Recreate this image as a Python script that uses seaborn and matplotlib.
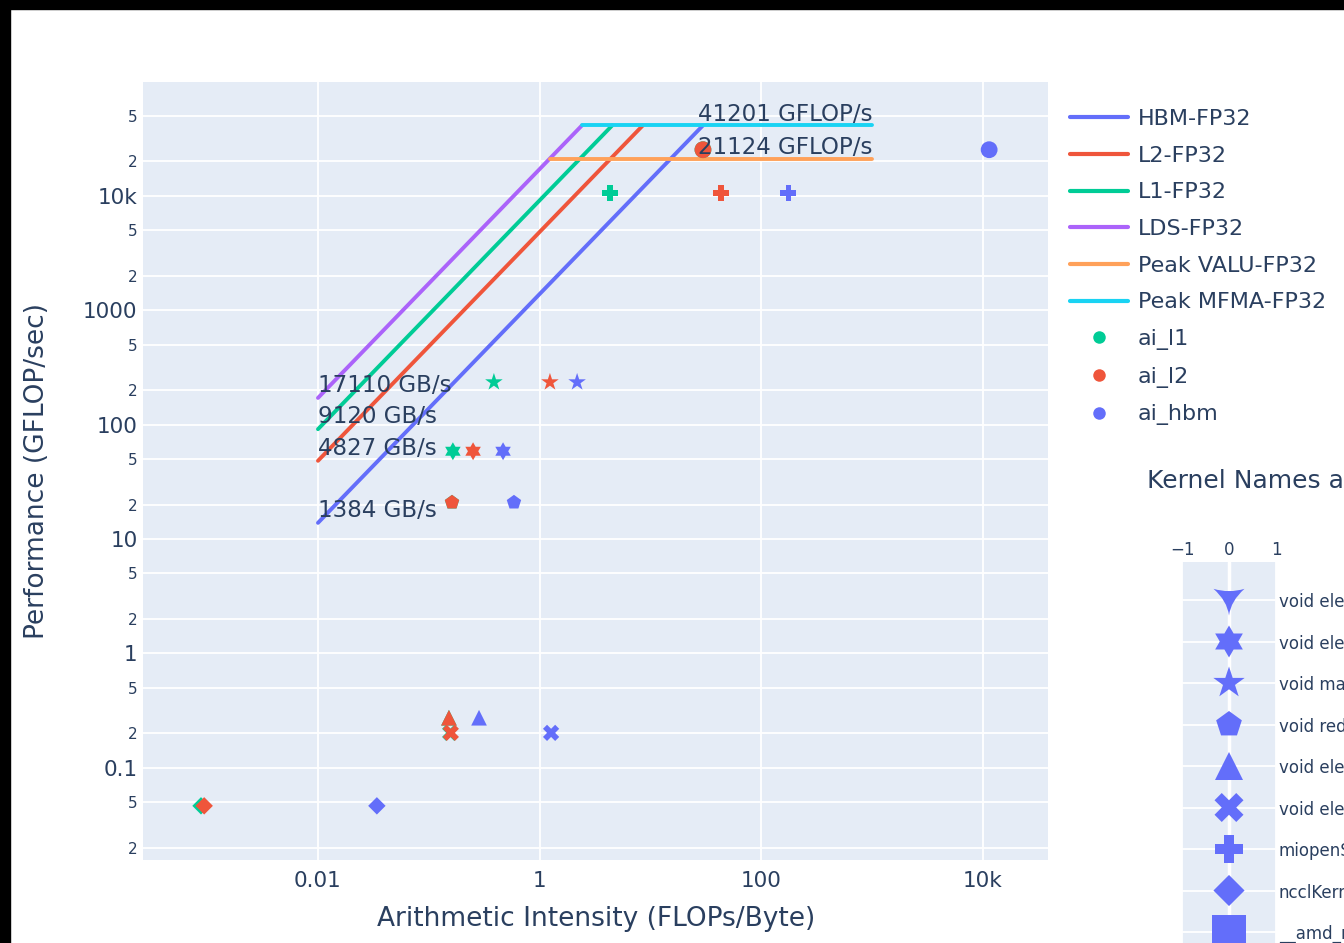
import numpy as np
import pandas as pd
import matplotlib
matplotlib.use("Agg")
import matplotlib.pyplot as plt
from matplotlib.path import Path
from matplotlib.lines import Line2D
from matplotlib.patches import Rectangle
import seaborn as sns

# ------------------------------------------------------------
# data
# ------------------------------------------------------------
mem_names = ["HBM-FP32", "L2-FP32", "L1-FP32", "LDS-FP32"]
mem_bw = [1384, 4827, 9120, 17110]          # GB/s
mem_colors = ["#636EFA", "#EF553B", "#00CC96", "#AB63FA"]

peak_names = ["Peak VALU-FP32", "Peak MFMA-FP32"]
peak_flops = [21124, 41201]                  # GFLOP/s
peak_colors = ["#FFA15A", "#19D3F3"]

ai_start = 0.01
ai_end = 1000

level_names = ["ai_l1", "ai_l2", "ai_hbm"]
level_colors = ["#00CC96", "#EF553B", "#636EFA"]

# kernel list, top -> bottom in the marker key
kernel_names = [
    "void elementwise_kernel<128, 2, at::native::launch_kernel>",
    "void elementwise_kernel<128, 4, at::native::copy_kernel>",
    "void matmul_kernel<float, 256>",
    "void reduce_kernel<512, 1, at::native::ReduceOp>",
    "void elementwise_kernel<128, 2, at::native::add_kernel>",
    "void elementwise_kernel<128, 4, at::native::mul_kernel>",
    "miopenSp3AsmConv_v21_1_3_gfx9_fp32_stride1",
    "ncclKernel_AllReduce_RING_LL_Sum_float",
    "__amd_rocclr_fillBufferAligned",
    "Cijk_Ailk_Bljk_SB_MT128x128x16_MI32x32x2x1",
]

# kernels that appear in the roofline (index into kernel_names)
point_kernel = [1, 2, 3, 4, 5, 6, 7, 9]
point_perf = [58.5, 235, 20.9, 0.274, 0.202, 10600, 0.0465, 25300]
point_ai_l1 = [0.165, 0.387, 0.162, 0.152, 0.156, 4.32, 0.00088, 29.8]
point_ai_l2 = [0.251, 1.24, 0.162, 0.152, 0.158, 43.4, 0.00094, 29.8]
point_ai_hbm = [0.468, 2.18, 0.587, 0.284, 1.27, 175, 0.034, 11400]


# ------------------------------------------------------------
# markers (plotly-like symbols)
# ------------------------------------------------------------
def star_triangle_down():
    p0, p1, p2 = (-1.0, 0.72), (1.0, 0.72), (0.0, -1.0)
    verts = [p0, (0.0, 0.42), p1, (0.12, -0.05), p2, (-0.12, -0.05), p0, p0]
    codes = [Path.MOVETO, Path.CURVE3, Path.CURVE3, Path.CURVE3, Path.CURVE3,
             Path.CURVE3, Path.CURVE3, Path.CLOSEPOLY]
    return Path(verts, codes)


kernel_markers = [
    star_triangle_down(),
    Path.unit_regular_star(6, 0.577),
    "*",
    "p",
    "^",
    "X",
    "P",
    "D",
    "s",
    "o",
]
# marker size (px) in the kernel key, per symbol
key_marker_px = [31, 32, 33, 27, 28, 29, 28, 22, 34, 30]
marker_map = dict(zip(kernel_names, kernel_markers))

# ------------------------------------------------------------
# style
# ------------------------------------------------------------
TXT = "#2a3f5f"
BG = "#E5ECF6"
sns.set_theme(style="whitegrid", rc={
    "axes.facecolor": BG,
    "grid.color": "white",
    "grid.linewidth": 1.3,
    "axes.edgecolor": BG,
    "axes.linewidth": 0,
    "text.color": TXT,
    "axes.labelcolor": TXT,
    "xtick.color": TXT,
    "ytick.color": TXT,
})
plt.rcParams["font.family"] = ["DejaVu Sans"]

fig = plt.figure(figsize=(13.44, 9.43), dpi=100)
W, H = 1344, 943

# main axes
ax = fig.add_axes([143 / W, 1 - 860 / H, 905 / W, 778 / H])
ax.set_xscale("log")
ax.set_yscale("log")
ax.set_xlim(10 ** -3.579, 10 ** 4.588)
ax.set_ylim(10 ** -1.806, 10 ** 4.995)

# roofline segments
seg_rows = []
top_peak = max(peak_flops)
for name, bw in zip(mem_names, mem_bw):
    seg_rows.append((name, ai_start, bw * ai_start))
    seg_rows.append((name, top_peak / bw, top_peak))
for name, pk in zip(peak_names, peak_flops):
    seg_rows.append((name, pk / max(mem_bw), pk))
    seg_rows.append((name, ai_end, pk))
seg_df = pd.DataFrame(seg_rows, columns=["ceiling", "ai", "perf"])
line_palette = dict(zip(mem_names + peak_names, mem_colors + peak_colors))
sns.lineplot(data=seg_df, x="ai", y="perf", hue="ceiling", palette=line_palette,
             hue_order=mem_names + peak_names, estimator=None, sort=False,
             linewidth=2.8, legend=False, ax=ax)

# kernel points
rows = []
for lvl, ais in zip(level_names, [point_ai_l1, point_ai_l2, point_ai_hbm]):
    for k, a, p in zip(point_kernel, ais, point_perf):
        rows.append((kernel_names[k], lvl, a, p))
pt_df = pd.DataFrame(rows, columns=["kernel", "level", "ai", "perf"])
main_sizes = {k: (0.56 * px * 0.72) ** 2 for k, px in zip(kernel_names, key_marker_px)}
sns.scatterplot(data=pt_df, x="ai", y="perf", hue="level", style="kernel",
                size="kernel", sizes={k: main_sizes[k] for k in pt_df["kernel"].unique()},
                palette=dict(zip(level_names, level_colors)),
                markers={k: marker_map[k] for k in pt_df["kernel"].unique()},
                linewidth=0, legend=False, ax=ax, zorder=3)

# ceiling labels
for pk in peak_flops:
    ax.annotate(f"{pk} GFLOP/s", xy=(ai_end, pk), xytext=(0, 8),
                textcoords="offset points", ha="right", va="center",
                fontsize=16.6, color=TXT, zorder=4)
for bw in mem_bw:
    ax.annotate(f"{bw} GB/s", xy=(ai_start, bw * ai_start), xytext=(0, 9),
                textcoords="offset points", ha="left", va="center",
                fontsize=16.6, color=TXT, zorder=4)


# ticks
def fmt_dec(v):
    if v >= 1e4:
        return f"{int(v / 1000)}k"
    if v >= 1:
        return f"{int(v)}"
    return f"{v:g}"


yt, yl, ymaj = [], [], []
for e in range(-2, 5):
    for m in (1, 2, 5):
        v = m * 10.0 ** e
        if 10 ** -1.806 <= v <= 10 ** 4.995:
            yt.append(v)
            yl.append(fmt_dec(v) if m == 1 else str(m))
            ymaj.append(m == 1)
ax.yaxis.set_major_locator(matplotlib.ticker.FixedLocator(yt))
ax.yaxis.set_minor_locator(matplotlib.ticker.NullLocator())
ax.set_yticklabels(yl)
for lab, big in zip(ax.get_yticklabels(), ymaj):
    lab.set_fontsize(15.5 if big else 11)

xt = [0.01, 1, 100, 10000]
ax.xaxis.set_major_locator(matplotlib.ticker.FixedLocator(xt))
ax.xaxis.set_minor_locator(matplotlib.ticker.NullLocator())
ax.set_xticklabels([fmt_dec(v) for v in xt], fontsize=15.5)
ax.tick_params(axis="both", length=0)
ax.tick_params(axis="y", pad=4)
ax.tick_params(axis="x", pad=8)
ax.grid(True)
for sp in ax.spines.values():
    sp.set_visible(False)

ax.set_xlabel("Arithmetic Intensity (FLOPs/Byte)", fontsize=19, va="center")
ax.set_ylabel("Performance (GFLOP/sec)", fontsize=19, va="center")
ax.xaxis.set_label_coords(0.5006, -0.0758)
ax.yaxis.set_label_coords(-0.117, 0.5)

# legend
handles = [Line2D([], [], color=c, lw=3) for c in mem_colors + peak_colors]
handles += [Line2D([], [], ls="", marker="o", ms=9, mew=0, color=c) for c in level_colors]
labels = mem_names + peak_names + level_names
fig.legend(handles, labels, loc="upper left", bbox_to_anchor=(1070 / W, 1 - 109 / H),
           frameon=False, fontsize=16, borderpad=0, borderaxespad=0,
           handlelength=2.6, handletextpad=0.45, labelspacing=0.75,
           labelcolor=TXT)

# kernel marker key
fig.text(1147 / W, 1 - 481 / H, "Kernel Names and Markers", fontsize=18,
         color=TXT, ha="left", va="center")
row_px = 41.5
y_top, y_bot = -38 / row_px, 9.9
kax_h = (y_bot - y_top) * row_px
kax = fig.add_axes([1182 / W, 1 - (562 + kax_h) / H, 94 / W, kax_h / H])
kax.grid(True, zorder=0)
kax.set_axisbelow(True)
kax.axvline(0, color="white", lw=2.5, zorder=1)
key_df = pd.DataFrame({"x": [0] * len(kernel_names),
                       "row": np.arange(len(kernel_names)),
                       "kernel": kernel_names})
key_sizes = {k: (px * 0.72) ** 2 for k, px in zip(kernel_names, key_marker_px)}
sns.scatterplot(data=key_df, x="x", y="row", style="kernel", markers=marker_map,
                size="kernel", sizes=key_sizes,
                color="#636EFA", linewidth=0, legend=False, ax=kax, zorder=3)
kax.set_xlim(-1, 1)
kax.set_ylim(y_bot, y_top)
kax.set_xticks([-1, 0, 1])
kax.set_xticklabels(["\u22121", "0", "1"], fontsize=12)
kax.xaxis.tick_top()
kax.set_yticks(np.arange(len(kernel_names)))
kax.set_yticklabels(kernel_names, fontsize=12)
kax.yaxis.tick_right()
kax.tick_params(axis="both", length=0, pad=2)
kax.set_xlabel("")
kax.set_ylabel("")
for sp in kax.spines.values():
    sp.set_visible(False)

# screenshot border
fig.patches.append(Rectangle((0, 1 - 9 / H), 1, 9 / H, transform=fig.transFigure,
                             color="black", zorder=10))
fig.patches.append(Rectangle((0, 0), 10 / W, 1, transform=fig.transFigure,
                             color="black", zorder=10))

fig.savefig("out.png", dpi=100)
